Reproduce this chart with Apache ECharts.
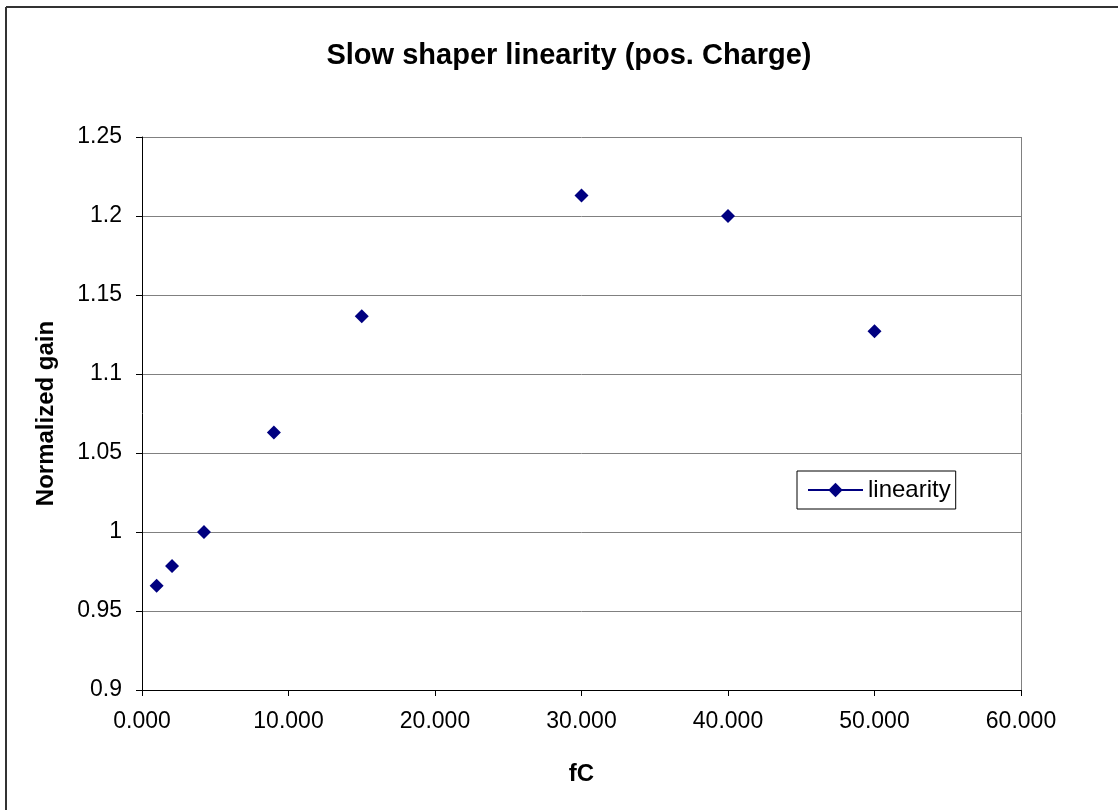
<!DOCTYPE html>
<html><head><meta charset="utf-8">
<script src="https://cdn.jsdelivr.net/npm/echarts@6/dist/echarts.min.js"></script>
<style>html,body{margin:0;padding:0;background:#fff}#c{width:1118px;height:810px}</style>
</head><body><div id="c"></div>
<script>
const fC = [1.0, 2.05, 4.23, 9.0, 15.0, 30.0, 40.0, 50.0];
const gain = [0.966, 0.9785, 1.0, 1.063, 1.1365, 1.213, 1.2, 1.127];
const seriesName = 'linearity';
const title = 'Slow shaper linearity (pos. Charge)';

const FF = 'Liberation Sans, Arial, sans-serif';
const G = {left: 142, top: 137, right: 97, bottom: 120};
const chart = echarts.init(document.getElementById('c'));
chart.setOption({
  animation: false,
  backgroundColor: '#fff',
  textStyle: {fontFamily: FF},
  title: {text: title, left: 564, top: 36, textAlign: 'center',
    textStyle: {fontSize: 29, fontWeight: 'bold', color: '#000', fontFamily: FF}},
  grid: G,
  legend: {
    left: 797, top: 471, orient: 'vertical',
    itemWidth: 55, itemHeight: 18, itemGap: 0,
    padding: [7, 5, 7, 10],
    borderColor: '#000', borderWidth: 1, backgroundColor: '#fff',
    textStyle: {fontSize: 24, color: '#000', fontFamily: FF},
    lineStyle: {width: 2, opacity: 1, color: '#000080'},
    data: [{name: seriesName}]
  },
  xAxis: {
    type: 'value', min: 0, max: 60, interval: 10,
    name: 'fC', nameLocation: 'middle', nameGap: 72,
    nameTextStyle: {fontSize: 24, fontWeight: 'bold', color: '#000'},
    axisLine: {onZero: false, lineStyle: {color: '#000', width: 1}},
    axisTick: {inside: false, length: 6, lineStyle: {color: '#000'}},
    axisLabel: {fontSize: 23, color: '#000', margin: 20, formatter: v => v.toFixed(3)},
    splitLine: {show: false}
  },
  yAxis: {
    type: 'value', min: 0.9, max: 1.25, interval: 0.05,
    name: 'Normalized gain', nameLocation: 'middle', nameGap: 84,
    nameTextStyle: {fontSize: 24, fontWeight: 'bold', color: '#000'},
    axisLine: {show: true, lineStyle: {color: '#000', width: 1}},
    axisTick: {show: true, length: 6, lineStyle: {color: '#000'}},
    axisLabel: {fontSize: 23, color: '#000', margin: 20, formatter: v => String(+v.toFixed(2))},
    splitLine: {show: true, lineStyle: {color: '#808080', width: 1}}
  },
  graphic: [
    {type: 'line', shape: {x1: 6, y1: 7, x2: 6, y2: 810}, style: {stroke: '#333', lineWidth: 2}},
    {type: 'line', shape: {x1: 6, y1: 7, x2: 1118, y2: 7}, style: {stroke: '#333', lineWidth: 2}},
    {type: 'line', shape: {x1: 1021.5, y1: 137, x2: 1021.5, y2: 690}, style: {stroke: '#808080', lineWidth: 1}}
  ],
  series: [{
    name: seriesName, type: 'line',
    data: fC.map((x, i) => [x, gain[i]]),
    lineStyle: {opacity: 0, color: '#000080'},
    symbol: 'diamond', symbolSize: 14,
    itemStyle: {color: '#000080'}
  }]
});
</script></body></html>
